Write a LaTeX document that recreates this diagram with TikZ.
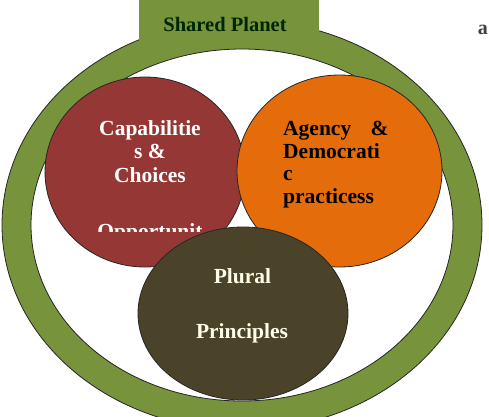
\documentclass[tikz,border=0pt]{standalone}
\usepackage{fontspec}
\setmainfont{Liberation Serif}
\usetikzlibrary{shapes.geometric,positioning}
\definecolor{planetgreen}{RGB}{119,147,60}
\definecolor{choicered}{RGB}{149,55,53}
\definecolor{agencyorange}{RGB}{228,108,10}
\definecolor{pluralbrown}{RGB}{74,67,42}
\tikzset{
  edge/.style={draw=black!85,line width=0.8pt},
  bubble/.style={ellipse,edge,inner sep=0pt},
  lab/.style={font=\fontsize{21.5}{23.5}\selectfont\bfseries,inner sep=0pt},
  onred/.style={lab,text=white},
  onorange/.style={lab,text=black},
  ondark/.style={lab,text=white!92!yellow},
}

\begin{document}
\begin{tikzpicture}[x=1pt,y=-1pt]
  \path[use as bounding box] (0,0) rectangle (489,416);

  % outer ring
  \fill[planetgreen,even odd rule] (242,225) ellipse [x radius=240,y radius=205]
                                   (242,225) ellipse [x radius=211,y radius=176];
  \draw[edge] (242,225) ellipse [x radius=240,y radius=205];
  \draw[edge] (242,225) ellipse [x radius=211,y radius=176];
  \node[fill=planetgreen,inner sep=0pt,minimum width=180pt,minimum height=45pt,
        anchor=north west] (tab) at (139,0) {};
  \node[lab,anchor=base,text=black!85!green,font=\fontsize{20.5}{23}\selectfont\bfseries] (planet) at (225,31) {Shared Planet};
  \node[lab,anchor=base east,text=black!75,font=\fontsize{20}{22}\selectfont\bfseries] (mark) at (488,34) {a};

  % circles
  \node[bubble,fill=choicered,minimum width=200pt,minimum height=190pt] (choices) at (145,172) {};
  \foreach \yy/\txt [count=\i] in {135/Capabilitie,158.5/{s \&},182/Choices}{
    \node[onred,anchor=base] (cap\i) at (150,\yy) {\txt};
  }
  \begin{scope}
    \clip (90,200) rectangle (215,231);
    \node[onred,anchor=base] (opp) at (150,238) {Opportunit};
  \end{scope}

  \node[bubble,fill=agencyorange,minimum width=205pt,minimum height=192pt] (agency) at (339.5,171) {};
  \foreach \yy/\txt [count=\i] in {135/{Agency\hspace{0.65em} \&},158/Democrati,180.5/c,203/practicess}{
    \node[onorange,anchor=base west] (ag\i) at (283,\yy) {\txt};
  }

  \node[bubble,fill=pluralbrown,minimum width=210pt,minimum height=173pt] (plural) at (243,313.5) {};
  \node[ondark,anchor=base] (pl1) at (242.5,283) {Plural};
  \node[ondark,anchor=base] (pl2) at (242,338) {Principles};
\end{tikzpicture}
\end{document}
